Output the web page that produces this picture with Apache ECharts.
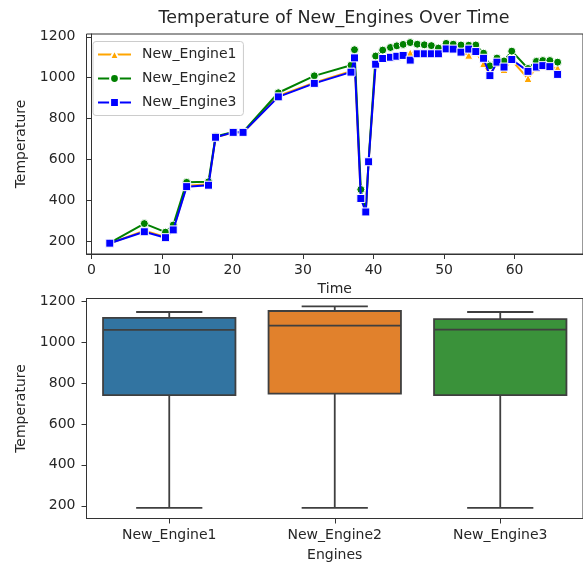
<!DOCTYPE html>
<html>
<head>
<meta charset="utf-8">
<script src="https://cdn.jsdelivr.net/npm/echarts@6/dist/echarts.min.js"></script>
<style>
html,body{margin:0;padding:0;background:#fff;}
#chart{width:583px;height:567px;}
</style>
</head>
<body>
<div id="chart"></div>
<script>
// ---- data ----
const times = [2.6, 7.5, 10.5, 11.6, 13.5, 16.6, 17.6, 20.1, 21.5, 26.5, 31.6, 36.8, 37.3, 38.2, 38.9, 39.3, 40.3, 41.3, 42.4, 43.3, 44.2, 45.2, 46.2, 47.2, 48.2, 49.2, 50.3, 51.3, 52.4, 53.5, 54.5, 55.6, 56.5, 57.5, 58.5, 59.6, 61.9, 63.1, 64.0, 65.0, 66.1];
const engine1 = [188, 250, 220, 258, 470, 478, 708, 731, 731, 910, 975, 1032, 1100, 412, 345, 590, 1070, 1100, 1108, 1112, 1115, 1122, 1122, 1120, 1121, 1118, 1146, 1142, 1128, 1110, 1125, 1069, 1015, 1072, 1040, 1085, 996, 1048, 1055, 1050, 1048];
const engine2 = [190, 285, 243, 278, 487, 490, 712, 734, 734, 926, 1009, 1061, 1137, 452, 348, 592, 1106, 1135, 1148, 1156, 1163, 1172, 1164, 1161, 1157, 1145, 1168, 1164, 1160, 1159, 1160, 1120, 1058, 1096, 1082, 1130, 1045, 1080, 1084, 1084, 1076];
const engine3 = [189, 245, 216, 254, 466, 473, 708, 732, 732, 906, 972, 1027, 1097, 408, 342, 588, 1066, 1094, 1100, 1105, 1109, 1086, 1117, 1117, 1117, 1117, 1141, 1140, 1125, 1140, 1128, 1095, 1010, 1076, 1052, 1089, 1031, 1052, 1059, 1054, 1016];

const engineNames = ['New_Engine1', 'New_Engine2', 'New_Engine3'];
const boxMin = [190, 190, 190];
const boxQ1 = [740, 748, 740];
const boxMedian = [1059, 1080, 1060];
const boxQ3 = [1117, 1151, 1111];
const boxMax = [1146, 1174, 1146];

const yTicks = [200, 400, 600, 800, 1000, 1200];
const xTicks = [0, 10, 20, 30, 40, 50, 60];

// ---- chart ----
const FONT = 'DejaVu Sans';
const TXT = '#262626';
const AX = '#333333';
const lineColors = ['#ffa500', '#008000', '#0000ff'];
const boxColors = ['#3274a1', '#e1812c', '#3a923a'];
const edge = '#3f3f3f';

const chart = echarts.init(document.getElementById('chart'), null, {renderer: 'canvas'});

function pair(xs, ys) { return xs.map((x, i) => [x, ys[i]]); }
const boxData = engineNames.map((n, i) => [i, boxMin[i], boxQ1[i], boxMedian[i], boxQ3[i], boxMax[i]]);

const lineSeries = [engine1, engine2, engine3].map((d, k) => ({
  type: 'line',
  name: engineNames[k],
  xAxisIndex: 0, yAxisIndex: 0,
  data: pair(times, d),
  symbol: ['triangle', 'circle', 'rect'][k],
  symbolSize: 8,
  showSymbol: true,
  lineStyle: {color: lineColors[k], width: 2},
  itemStyle: {color: lineColors[k], borderColor: '#ffffff', borderWidth: 1},
  emphasis: {disabled: true},
  z: 2 + k
}));

const plain = v => String(v);

const valueAxisCommon = {
  type: 'value',
  axisLine: {show: true, lineStyle: {color: AX, width: 1}},
  axisTick: {show: true, length: 5, inside: false, lineStyle: {color: AX}, customValues: yTicks},
  axisLabel: {color: TXT, fontFamily: FONT, fontSize: 14, margin: 11, customValues: yTicks, formatter: plain},
  splitLine: {show: false},
  name: 'Temperature',
  nameLocation: 'middle',
  nameGap: 58,
  nameTextStyle: {color: TXT, fontFamily: FONT, fontSize: 14}
};

chart.setOption({
  animation: false,
  backgroundColor: '#ffffff',
  graphic: [{
    type: 'text', x: 334, y: 18,
    style: {text: 'Temperature of New_Engines Over Time', fill: TXT, font: '17.5px "DejaVu Sans"', textAlign: 'center', textVerticalAlign: 'middle'}
  }],
  legend: {
    data: engineNames,
    orient: 'vertical',
    left: 93, top: 41.5,
    itemWidth: 33, itemHeight: 11, itemGap: 10,
    padding: [6, 7, 6, 4],
    borderColor: '#cccccc', borderWidth: 1, borderRadius: 3,
    backgroundColor: 'rgba(255,255,255,0.8)',
    textStyle: {color: TXT, fontFamily: FONT, fontSize: 14, lineHeight: 14, padding: [0, 0, 0, 6]},
    selectedMode: false
  },
  grid: [
    {left: 86.5, top: 34, width: 502, height: 220, show: true, borderColor: AX, borderWidth: 1, backgroundColor: '#ffffff'},
    {left: 86.5, top: 298.5, width: 498, height: 220, show: true, borderColor: AX, borderWidth: 1, backgroundColor: '#ffffff'}
  ],
  xAxis: [
    {
      type: 'value', gridIndex: 0, min: -0.7, max: 69.7,
      axisLine: {show: true, onZero: false, lineStyle: {color: AX, width: 1}},
      axisTick: {show: true, length: 5, lineStyle: {color: AX}, customValues: xTicks},
      axisLabel: {color: TXT, fontFamily: FONT, fontSize: 14, margin: 9, customValues: xTicks, formatter: plain},
      splitLine: {show: false},
      name: 'Time', nameLocation: 'middle', nameGap: 28,
      nameTextStyle: {color: TXT, fontFamily: FONT, fontSize: 14}
    },
    {
      type: 'category', gridIndex: 1, data: engineNames, boundaryGap: true,
      axisLine: {show: true, onZero: false, lineStyle: {color: AX, width: 1}},
      axisTick: {show: true, length: 5, alignWithLabel: true, lineStyle: {color: AX}},
      axisLabel: {color: TXT, fontFamily: FONT, fontSize: 14, margin: 10},
      splitLine: {show: false},
      name: 'Engines', nameLocation: 'middle', nameGap: 30,
      nameTextStyle: {color: TXT, fontFamily: FONT, fontSize: 14}
    }
  ],
  yAxis: [
    Object.assign({}, valueAxisCommon, {gridIndex: 0, min: 136, max: 1214}),
    Object.assign({}, valueAxisCommon, {gridIndex: 1, min: 138, max: 1212})
  ],
  series: lineSeries.concat([{
    type: 'custom',
    name: 'box',
    xAxisIndex: 1, yAxisIndex: 1,
    data: boxData,
    encode: {x: 0, y: [1, 2, 3, 4, 5]},
    renderItem: function (params, api) {
      const i = api.value(0);
      const lo = api.coord([i, api.value(1)]);
      const q1 = api.coord([i, api.value(2)]);
      const med = api.coord([i, api.value(3)]);
      const q3 = api.coord([i, api.value(4)]);
      const hi = api.coord([i, api.value(5)]);
      const band = api.size([1, 0])[0];
      const bw = band * 0.8, cw = bw * 0.5;
      const x = lo[0];
      const st = {stroke: edge, lineWidth: 1.8, fill: null};
      return {
        type: 'group',
        children: [
          {type: 'line', shape: {x1: x, y1: q3[1], x2: x, y2: hi[1]}, style: st},
          {type: 'line', shape: {x1: x, y1: q1[1], x2: x, y2: lo[1]}, style: st},
          {type: 'line', shape: {x1: x - cw / 2, y1: hi[1], x2: x + cw / 2, y2: hi[1]}, style: st},
          {type: 'line', shape: {x1: x - cw / 2, y1: lo[1], x2: x + cw / 2, y2: lo[1]}, style: st},
          {type: 'rect', shape: {x: x - bw / 2, y: q3[1], width: bw, height: q1[1] - q3[1]}, style: {fill: boxColors[i], stroke: edge, lineWidth: 1.8}},
          {type: 'line', shape: {x1: x - bw / 2, y1: med[1], x2: x + bw / 2, y2: med[1]}, style: st}
        ]
      };
    }
  }])
});
</script>
</body>
</html>
